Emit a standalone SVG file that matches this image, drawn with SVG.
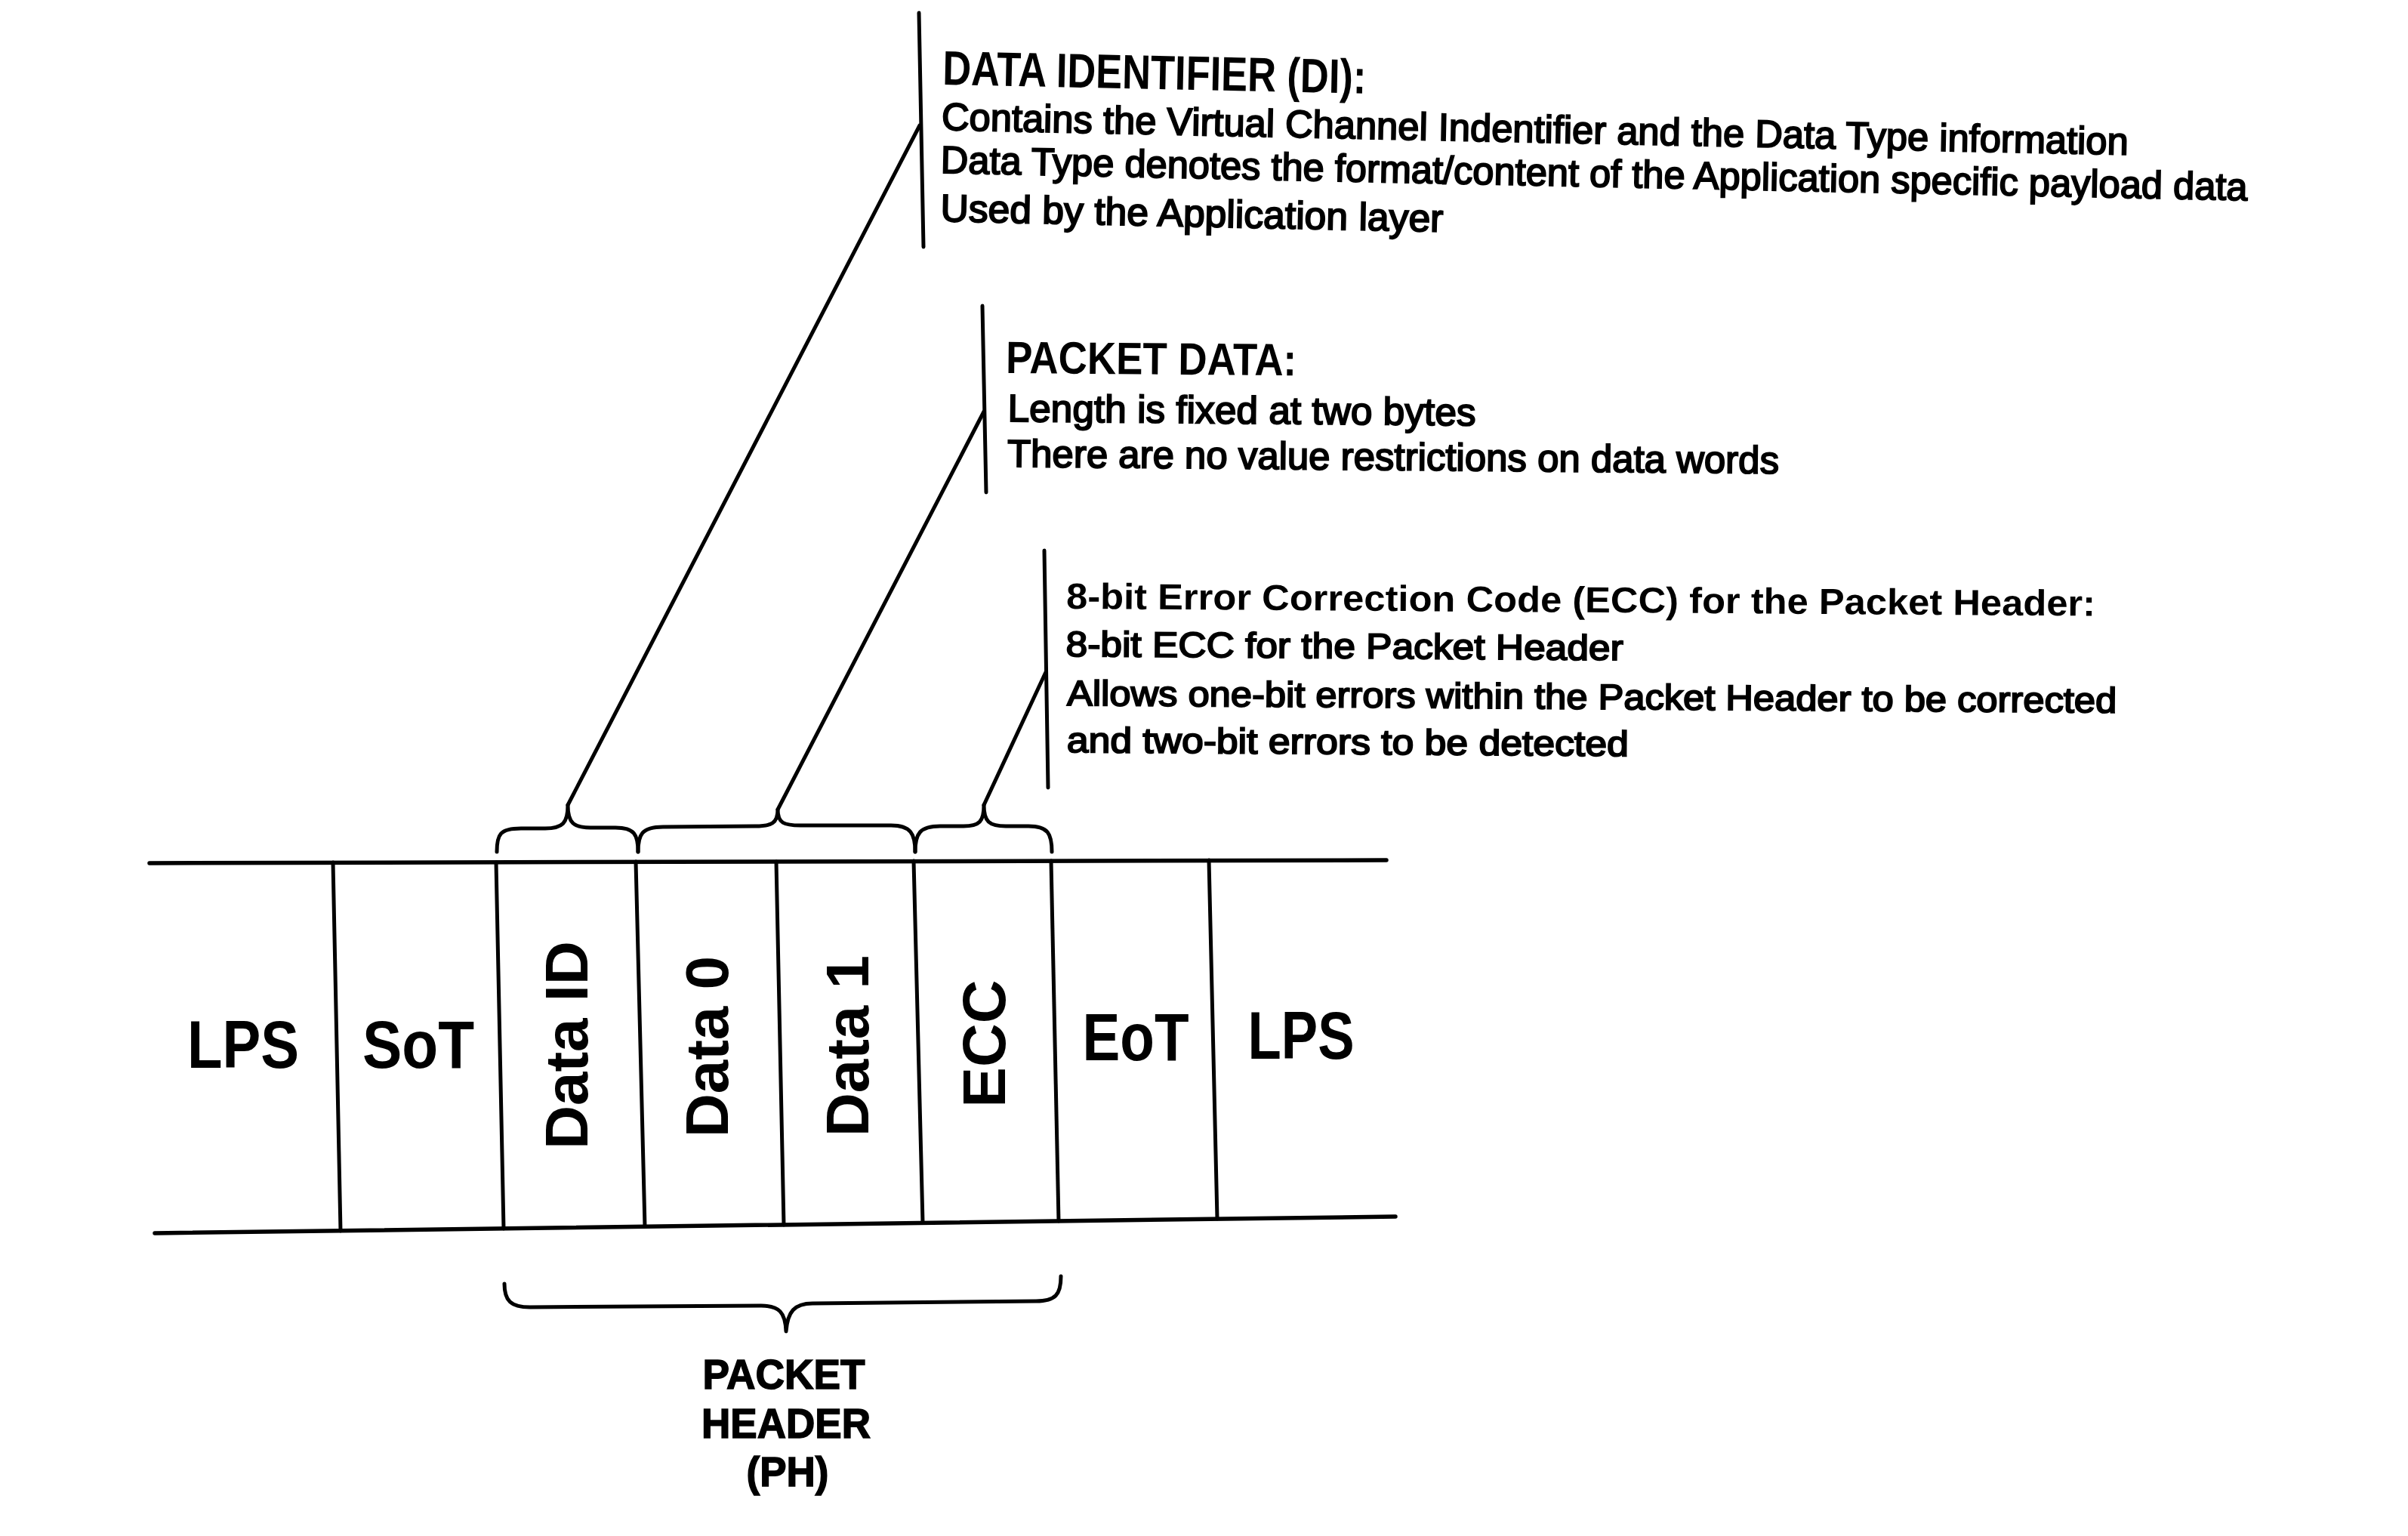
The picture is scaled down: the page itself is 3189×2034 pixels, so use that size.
<svg xmlns="http://www.w3.org/2000/svg" width="3189" height="2034" viewBox="0 0 3189 2034">
<style>
  .ln { stroke:#000; fill:none; stroke-linecap:round; stroke-linejoin:round; }
  .frame { stroke-width:5.5; }
  .sep { stroke-width:5; }
  .conn { stroke-width:5; }
  .cell { font-family:"Liberation Sans", Arial, sans-serif; font-weight:bold; font-size:89px; fill:#000; text-anchor:middle; }
  .vcell { font-family:"Liberation Sans", Arial, sans-serif; font-weight:bold; font-size:80px; fill:#000; text-anchor:middle; }
  .head { font-family:"Liberation Sans", Arial, sans-serif; font-weight:bold; fill:#000; }
  .body { font-family:"Liberation Sans", Arial, sans-serif; fill:#000; stroke:#000; stroke-width:2; }
  .ph { font-family:"Liberation Sans", Arial, sans-serif; font-weight:bold; font-size:55px; fill:#000; stroke:#000; stroke-width:1.5; text-anchor:middle; }
</style>
<rect width="3189" height="2034" fill="#fff"/>

<g id="frame">
  <path class="ln frame" d="M198,1143 L1836,1139"/>
  <path class="ln frame" d="M205,1633 L1848,1611"/>
  <path class="ln sep" d="M441,1142 L451,1630"/>
  <path class="ln sep" d="M657,1142 L667,1627"/>
  <path class="ln sep" d="M842,1141 L854,1624"/>
  <path class="ln sep" d="M1028,1141 L1038,1622"/>
  <path class="ln sep" d="M1210,1140 L1222,1619"/>
  <path class="ln sep" d="M1392,1140 L1402,1617"/>
  <path class="ln sep" d="M1601,1139 L1612,1614"/>
</g>

<g id="cell-lps-1"><text class="cell" x="322" y="1414" textLength="148" lengthAdjust="spacingAndGlyphs">LPS</text></g>
<g id="cell-sot"><text class="cell" x="554" y="1414" textLength="148" lengthAdjust="spacingAndGlyphs">SoT</text></g>
<g id="cell-data-id"><text class="vcell" transform="translate(778,1384) rotate(-90)">Data ID</text></g>
<g id="cell-data-0"><text class="vcell" transform="translate(964,1386) rotate(-90)">Data 0</text></g>
<g id="cell-data-1"><text class="vcell" transform="translate(1150,1385) rotate(-90)">Data 1</text></g>
<g id="cell-ecc"><text class="vcell" transform="translate(1331,1382) rotate(-90)">ECC</text></g>
<g id="cell-eot"><text class="cell" x="1504" y="1404" textLength="141" lengthAdjust="spacingAndGlyphs">EoT</text></g>
<g id="cell-lps-2"><text class="cell" x="1723" y="1402" textLength="141" lengthAdjust="spacingAndGlyphs">LPS</text></g>

<g id="connectors">
  <path class="ln conn" d="M658,1128 C658,1105 662,1097 690,1097 L722,1097 C745,1097 752,1090 752,1066 C752,1090 760,1096 782,1096 L815,1096 C840,1096 845,1105 845,1128"/>
  <path class="ln conn" d="M845,1128 C845,1105 850,1095 878,1095 L1000,1094 C1022,1094 1030,1090 1030,1072 C1030,1090 1038,1093 1060,1093 L1180,1093 C1206,1093 1212,1104 1212,1128"/>
  <path class="ln conn" d="M1212,1128 C1212,1104 1218,1094 1245,1094 L1276,1094 C1297,1094 1303,1088 1303,1066 C1303,1088 1310,1094 1332,1094 L1362,1094 C1388,1094 1393,1104 1393,1128"/>
  <path class="ln conn" d="M752,1066 L1218,166"/>
  <path class="ln conn" d="M1030,1072 L1303,545"/>
  <path class="ln conn" d="M1303,1066 L1385,890"/>
  <path class="ln conn" d="M1217,17 L1223,327"/>
  <path class="ln conn" d="M1301,405 L1306,652"/>
  <path class="ln conn" d="M1383,729 L1388,1043"/>
  <path class="ln conn" stroke-width="6" d="M668,1700 C668,1722 676,1731 702,1731 L1008,1729 C1032,1729 1040,1738 1041,1763 C1043,1737 1052,1726 1076,1726 L1372,1723 C1398,1723 1405,1714 1405,1690"/>
</g>

<g id="note-di" transform="rotate(1.2,1248,112)">
  <text class="head" x="1248" y="112" font-size="64" textLength="561" lengthAdjust="spacingAndGlyphs">DATA IDENTIFIER (DI):</text>
  <text class="body" x="1248" y="172" font-size="51" textLength="1572" lengthAdjust="spacingAndGlyphs">Contains the Virtual Channel Indentifier and the Data Type information</text>
  <text class="body" x="1248" y="229" font-size="51" textLength="1731" lengthAdjust="spacingAndGlyphs">Data Type denotes the format/content of the Application specific payload data</text>
  <text class="body" x="1249" y="293" font-size="51" textLength="666" lengthAdjust="spacingAndGlyphs">Used by the Application layer</text>
</g>

<g id="note-packet-data" transform="rotate(0.5,1332,494)">
  <text class="head" x="1332" y="494" font-size="60" textLength="385" lengthAdjust="spacingAndGlyphs">PACKET DATA:</text>
  <text class="body" x="1335" y="558" font-size="51" textLength="620" lengthAdjust="spacingAndGlyphs">Length is fixed at two bytes</text>
  <text class="body" x="1335" y="618" font-size="51" textLength="1022" lengthAdjust="spacingAndGlyphs">There are no value restrictions on data words</text>
</g>

<g id="note-ecc" transform="rotate(0.4,1412,806)">
  <text class="head" x="1412" y="806" font-size="48" textLength="1363" lengthAdjust="spacingAndGlyphs">8-bit Error Correction Code (ECC) for the Packet Header:</text>
  <text class="body" x="1412" y="869" font-size="47" textLength="738" lengthAdjust="spacingAndGlyphs">8-bit ECC for the Packet Header</text>
  <text class="body" x="1414" y="934" font-size="47" textLength="1390" lengthAdjust="spacingAndGlyphs">Allows one-bit errors within the Packet Header to be corrected</text>
  <text class="body" x="1414" y="996" font-size="47" textLength="744" lengthAdjust="spacingAndGlyphs">and two-bit errors to be detected</text>
</g>

<g id="label-packet-header">
  <text class="ph" x="1038" y="1839" textLength="215" lengthAdjust="spacingAndGlyphs">PACKET</text>
  <text class="ph" x="1041" y="1904" textLength="224" lengthAdjust="spacingAndGlyphs">HEADER</text>
  <text class="ph" x="1043" y="1968" textLength="109" lengthAdjust="spacingAndGlyphs">(PH)</text>
</g>
</svg>
